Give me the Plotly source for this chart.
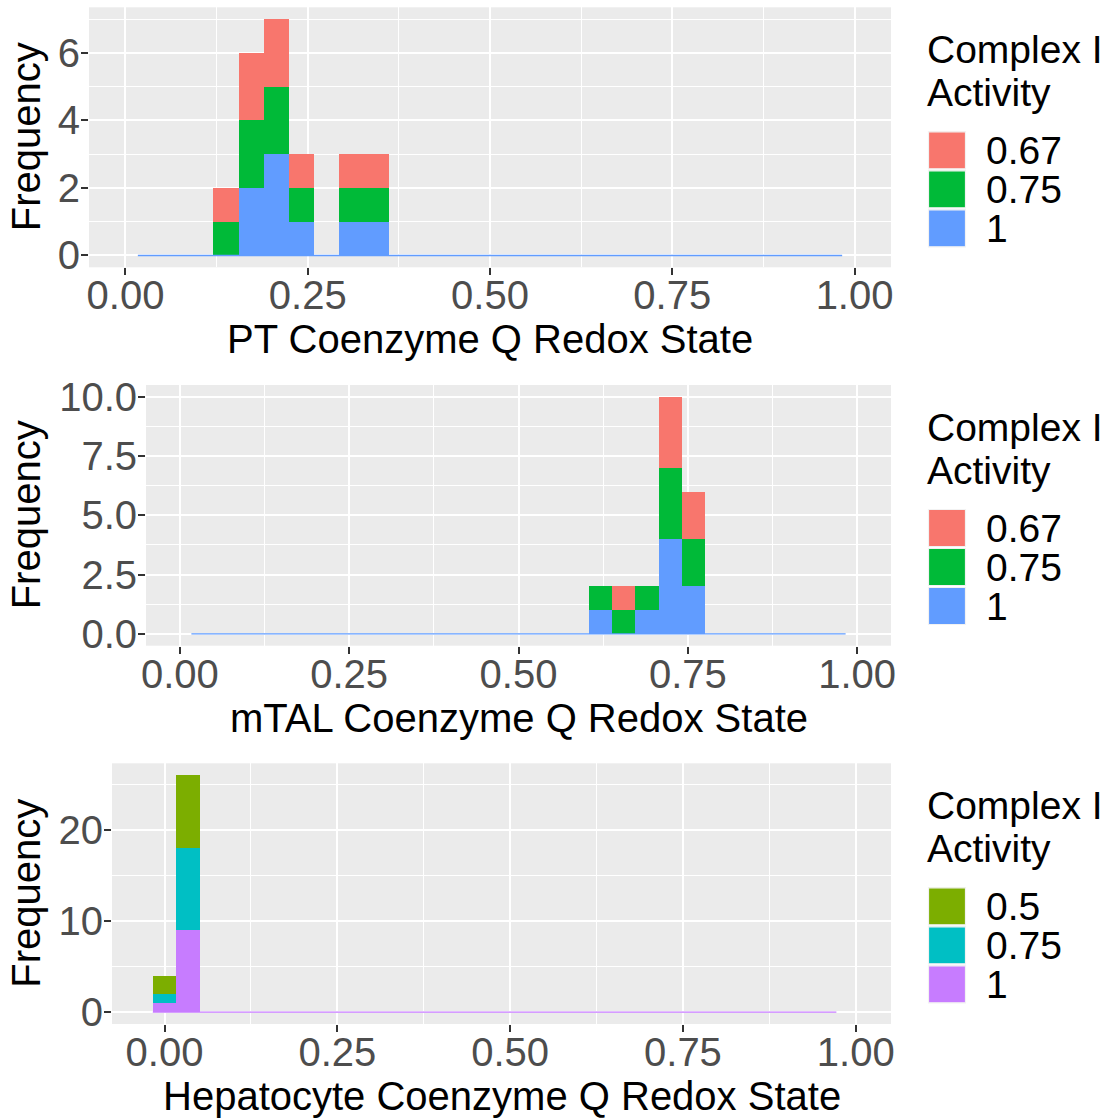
import plotly.graph_objects as go

# ---------------- data (histogram counts) ----------------
BIN_WIDTH = 1 / 29

pt_bin_mid = [0.1379, 0.1724, 0.2069, 0.2414, 0.3103, 0.3448]
pt_count_1 = [0, 2, 3, 1, 1, 1]
pt_count_075 = [1, 2, 2, 1, 1, 1]
pt_count_067 = [1, 2, 2, 1, 1, 1]
pt_binned_range = [0.017, 0.983]

mtal_bin_mid = [0.6207, 0.6552, 0.6897, 0.7241, 0.7586]
mtal_count_1 = [1, 0, 1, 4, 2]
mtal_count_075 = [1, 1, 1, 3, 2]
mtal_count_067 = [0, 1, 0, 3, 2]
mtal_binned_range = [0.017, 0.983]

hep_bin_mid = [0.0, 0.0345]
hep_count_1 = [1, 9]
hep_count_075 = [1, 9]
hep_count_05 = [2, 8]
hep_binned_range = [-0.017, 0.972]

x_ticks = [0, 0.25, 0.5, 0.75, 1.0]
pt_y_ticks = [0, 2, 4, 6]
mtal_y_ticks = [0, 2.5, 5.0, 7.5, 10.0]
hep_y_ticks = [0, 10, 20]

x_titles = ["PT Coenzyme Q Redox State", "mTAL Coenzyme Q Redox State",
            "Hepatocyte Coenzyme Q Redox State"]
legend_title = ["Complex I", "Activity"]
pt_levels = ["0.67", "0.75", "1"]
mtal_levels = ["0.67", "0.75", "1"]
hep_levels = ["0.5", "0.75", "1"]

# ---------------- styling ----------------
W, H = 1113, 1118
FONT = "Liberation Sans, Arial, sans-serif"
RED, GREEN, BLUE = "#F8766D", "#00BA38", "#619CFF"
OLIVE, CYAN, PURPLE = "#7CAE00", "#00BFC4", "#C77CFF"


def px(x):
    return x / W


def py(y):
    return 1 - y / H


# plot-area pixel boxes: (left, top, right, bottom)
boxes = [(89, 7.3, 891, 267.3), (146, 385, 891, 645.7), (112, 763.3, 891, 1024)]

fig = go.Figure()

panels = [
    dict(mid=pt_bin_mid, counts=[pt_count_1, pt_count_075, pt_count_067],
         colors=[BLUE, GREEN, RED], rng=pt_binned_range, levels=pt_levels,
         lcolors=[RED, GREEN, BLUE]),
    dict(mid=mtal_bin_mid, counts=[mtal_count_1, mtal_count_075, mtal_count_067],
         colors=[BLUE, GREEN, RED], rng=mtal_binned_range, levels=mtal_levels,
         lcolors=[RED, GREEN, BLUE]),
    dict(mid=hep_bin_mid, counts=[hep_count_1, hep_count_075, hep_count_05],
         colors=[PURPLE, CYAN, OLIVE], rng=hep_binned_range, levels=hep_levels,
         lcolors=[OLIVE, CYAN, PURPLE]),
]

for i, p in enumerate(panels):
    xa = "x" if i == 0 else f"x{i+1}"
    ya = "y" if i == 0 else f"y{i+1}"
    # zero-height bins render as a hairline in the original
    fig.add_trace(go.Scatter(x=p["rng"], y=[0, 0], mode="lines",
                             line=dict(color=p["colors"][0], width=1.3),
                             xaxis=xa, yaxis=ya, showlegend=False, hoverinfo="skip"))
    lv = list(reversed(p["levels"]))
    for cnt, col, name in zip(p["counts"], p["colors"], lv):
        fig.add_trace(go.Bar(x=p["mid"], y=cnt, width=BIN_WIDTH, name=name,
                             marker=dict(color=col, line=dict(width=0)),
                             xaxis=xa, yaxis=ya, showlegend=False))

y_ranges = [[-0.35, 7.35], [-0.5, 10.5], [-1.3, 27.3]]
y_ticks = [pt_y_ticks, mtal_y_ticks, hep_y_ticks]
y_minor = [1, 1.25, 5]
y_fmt = ["d", ".1f", "d"]
x_ranges = [[-0.05, 1.05], [-0.05, 1.05], [-0.076, 1.051]]

axis_common = dict(
    showgrid=True, gridcolor="white", gridwidth=2.2, zeroline=False, showline=False,
    ticks="outside", ticklen=7, tickwidth=2, tickcolor="#333333", automargin=False,
    tickfont=dict(family=FONT, size=40, color="#4D4D4D"),
)

layout = dict(
    width=W, height=H, margin=dict(l=0, r=0, t=0, b=0, autoexpand=False),
    paper_bgcolor="white", plot_bgcolor="#EBEBEB", barmode="stack",
    showlegend=False, font=dict(family=FONT),
)

annotations = []
shapes = []
for i, (l, t, r, b) in enumerate(boxes):
    sx = "" if i == 0 else str(i + 1)
    layout[f"xaxis{sx}"] = dict(
        axis_common, domain=[px(l), px(r)], range=x_ranges[i], anchor=f"y{sx}",
        tickvals=x_ticks, tickformat=".2f", ticklabelstandoff=-14,
        minor=dict(dtick=0.125, tick0=0, showgrid=True, gridcolor="white",
                   gridwidth=1.1, ticks=""),
    )
    layout[f"yaxis{sx}"] = dict(
        axis_common, domain=[py(b), py(t)], range=y_ranges[i], anchor=f"x{sx}",
        tickvals=y_ticks[i], tickformat=y_fmt[i], ticklabelstandoff=-7,
        minor=dict(dtick=y_minor[i], tick0=0, showgrid=True, gridcolor="white",
                   gridwidth=1.1, ticks=""),
    )
    # x-axis title
    annotations.append(dict(text=x_titles[i], xref="paper", yref="paper",
                            x=px((l + r) / 2), y=py(b + 72), xanchor="center",
                            yanchor="middle", showarrow=False,
                            font=dict(family=FONT, size=40, color="black")))
    # y-axis title
    annotations.append(dict(text="Frequency", xref="paper", yref="paper",
                            x=px(26), y=py((t + b) / 2), xanchor="center",
                            yanchor="middle", textangle=-90, showarrow=False,
                            font=dict(family=FONT, size=40, color="black")))
    # legend
    annotations.append(dict(text=legend_title[0], xref="paper", yref="paper",
                            x=px(925), y=py(t + 42), xanchor="left", yanchor="middle",
                            showarrow=False, font=dict(family=FONT, size=39, color="black")))
    annotations.append(dict(text=legend_title[1], xref="paper", yref="paper",
                            x=px(925), y=py(t + 85), xanchor="left", yanchor="middle",
                            showarrow=False, font=dict(family=FONT, size=39, color="black")))
    for j, (lab, col) in enumerate(zip(panels[i]["levels"], panels[i]["lcolors"])):
        top = t + 124.5 + 39 * j
        shapes.append(dict(type="rect", xref="paper", yref="paper",
                           x0=px(928.5), x1=px(965.5), y0=py(top + 37), y1=py(top),
                           fillcolor=col, line=dict(color="#F2F2F2", width=1.2),
                           layer="above"))
        annotations.append(dict(text=lab, xref="paper", yref="paper",
                                x=px(984), y=py(top + 18.5), xanchor="left",
                                yanchor="middle", showarrow=False,
                                font=dict(family=FONT, size=39, color="black")))

layout["annotations"] = annotations
layout["shapes"] = shapes
fig.update_layout(**layout)

fig.write_html("out.html")
